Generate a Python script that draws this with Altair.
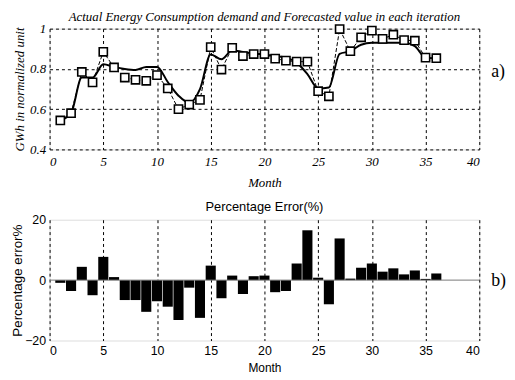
import altair as alt
import pandas as pd

months = list(range(1, 37))
actual = [0.544, 0.58, 0.785, 0.733, 0.885, 0.807, 0.757, 0.746, 0.741, 0.769,
          0.703, 0.60, 0.623, 0.646, 0.908, 0.797, 0.905, 0.864, 0.874, 0.874,
          0.851, 0.841, 0.836, 0.836, 0.689, 0.664, 0.998, 0.888, 0.957, 0.990,
          0.949, 0.970, 0.943, 0.940, 0.856, 0.853]
forecast = [0.544, 0.58, 0.757, 0.757, 0.823, 0.81, 0.80, 0.795, 0.81, 0.81,
            0.735, 0.667, 0.632, 0.70, 0.872, 0.848, 0.892, 0.884, 0.876, 0.872,
            0.864, 0.856, 0.831, 0.774, 0.703, 0.708, 0.875, 0.888, 0.92, 0.93,
            0.93, 0.93, 0.93, 0.913, 0.856, 0.852]
pct_error = [-0.9, -3.6, 4.4, -5.0, 7.7, 1.0, -6.6, -6.6, -10.5, -7.0,
             -8.8, -13.2, -2.5, -12.5, 4.8, -6.0, 1.5, -4.6, 1.3, 1.5,
             -4.0, -3.6, 5.5, 16.5, 0.8, -8.0, 13.8, 0.5, 4.1, 5.5,
             2.8, 3.9, 1.9, 3.2, 0.4, 2.2]
x_ticks = [0, 5, 10, 15, 20, 25, 30, 35, 40]
top_y_ticks = [0.4, 0.6, 0.8, 1.0]
bot_y_ticks = [-20, 0, 20]
panel_labels = ["a)", "b)"]

df = pd.DataFrame({"month": months, "actual": actual, "forecast": forecast,
                   "err": pct_error})

W, H = 434, 122
SERIF = "Liberation Serif"
SANS = "Liberation Sans"

xs_top = alt.X("month:Q", scale=alt.Scale(domain=[0, 40], nice=False),
               axis=alt.Axis(values=x_ticks, title="Month", grid=True,
                             gridDash=[3, 3], gridColor="black", gridOpacity=1,
                             ticks=False, domain=False, labelFont=SERIF,
                             labelFontStyle="italic", labelFontSize=13,
                             labelPadding=6, titleFont=SERIF,
                             titleFontStyle="italic", titleFontWeight="normal",
                             titleFontSize=13, titlePadding=8,
                             labelColor="black", titleColor="black"))
ys_top = alt.Y("v:Q", scale=alt.Scale(domain=[0.4, 1.0], nice=False),
               axis=alt.Axis(values=top_y_ticks, title="GWh in normalized unit",
                             grid=True, gridDash=[3, 3], gridColor="black",
                             gridOpacity=1, ticks=False, domain=False,
                             labelExpr="datum.value == 1 ? '1' : format(datum.value, '.1f')",
                             labelFont=SERIF, labelFontStyle="italic",
                             labelFontSize=13, labelPadding=4, titleFont=SERIF,
                             titleFontStyle="italic", titleFontWeight="normal",
                             titleFontSize=13, titlePadding=3,
                             labelColor="black", titleColor="black"))

base_top = alt.Chart(df)
act_line = base_top.transform_calculate(v="datum.actual").mark_line(
    color="black", strokeWidth=1, strokeDash=[4, 2]).encode(x=xs_top, y=ys_top)
fc_line = base_top.transform_calculate(v="datum.forecast").mark_line(
    color="black", strokeWidth=2, interpolate="monotone").encode(x=xs_top, y=ys_top)
act_pts = base_top.transform_calculate(v="datum.actual").mark_point(
    shape="square", filled=True, fill="white", stroke="black", strokeWidth=1.6,
    size=68, opacity=1).encode(x=xs_top, y=ys_top)
lab_a = alt.Chart(pd.DataFrame({"t": [panel_labels[0]]})).mark_text(
    font=SERIF, fontSize=18, align="left", baseline="middle", color="black").encode(
    text="t:N", x=alt.value(446), y=alt.value(44))

top = alt.layer(fc_line, act_line, act_pts, lab_a).properties(
    width=W, height=H,
    title=alt.TitleParams("Actual Energy Consumption demand and Forecasted value in each iteration",
                          font=SERIF, fontStyle="italic", fontWeight="normal",
                          fontSize=13, color="black", offset=-2, anchor="middle"))

xs_bot = alt.X("x0:Q", scale=alt.Scale(domain=[0, 40], nice=False),
               axis=alt.Axis(values=x_ticks, title="Month", grid=True,
                             gridDash=[3, 3], gridColor="black", gridOpacity=1,
                             ticks=False, domain=False, labelFont=SANS,
                             labelFontSize=12.5, labelPadding=4, titleFont=SANS,
                             titleFontWeight="normal", titleFontSize=12,
                             titlePadding=6, labelColor="black",
                             titleColor="black"))
ys_bot = alt.Y("err:Q", scale=alt.Scale(domain=[-20, 20], nice=False),
               axis=alt.Axis(values=bot_y_ticks, title="Percentage error%",
                             grid=False, ticks=False, domain=False,
                             labelFont=SANS, labelFontSize=12.5, labelPadding=4,
                             titleFont=SANS, titleFontWeight="normal",
                             titleFontSize=13.5, titlePadding=0,
                             labelColor="black", titleColor="black"))

bars = alt.Chart(df).transform_calculate(
    x0="datum.month - 0.47", x1="datum.month + 0.47").mark_bar(
    color="black").encode(x=xs_bot, x2="x1:Q", y=ys_bot, y2=alt.datum(0))
zero = alt.Chart(pd.DataFrame({"z": [0]})).mark_rule(color="#777777", strokeWidth=1).encode(
    y="z:Q")
lab_b = alt.Chart(pd.DataFrame({"t": [panel_labels[1]]})).mark_text(
    font=SERIF, fontSize=18, align="left", baseline="middle", color="black").encode(
    text="t:N", x=alt.value(446), y=alt.value(62))

bottom = alt.layer(bars, zero, lab_b).properties(
    width=W, height=H,
    title=alt.TitleParams("Percentage Error(%)", font=SANS, fontWeight="normal",
                          fontSize=13, color="black", offset=0, anchor="middle"))

chart = alt.vconcat(top, bottom, spacing=10).properties(
    padding={"left": 2, "top": 0, "right": 0, "bottom": 0}
).configure_view(stroke="black", strokeWidth=1.2).configure(background="white")

chart.save("out.html", embed_options={"renderer": "svg", "actions": False})
